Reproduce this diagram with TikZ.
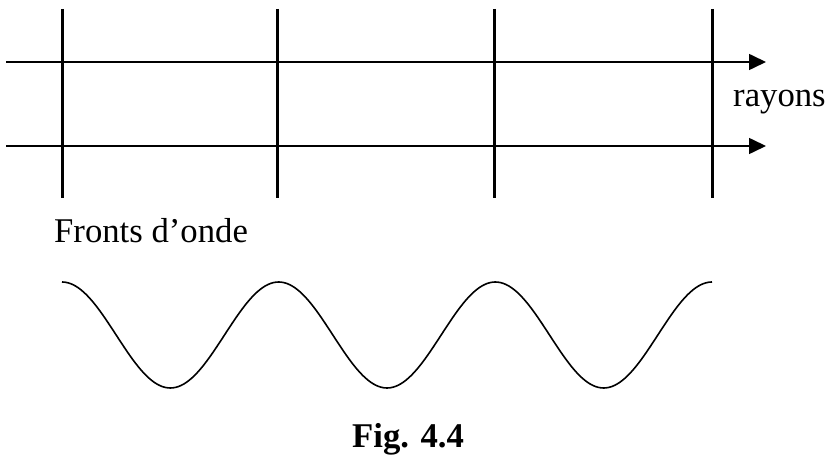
\documentclass[tikz,border=0pt]{standalone}
\usepackage{fontspec}
\setmainfont{Liberation Serif}
\usetikzlibrary{arrows.meta}
\begin{document}
\begin{tikzpicture}[x=1pt,y=-1pt,
  front/.style={line width=3pt},
  ray/.style={line width=1.6pt,-{Triangle[length=17pt,width=16pt]}},
  wave/.style={line width=1.6pt},
  lbl/.style={inner sep=0pt,anchor=base west,font=\fontsize{34.7}{40}\selectfont}]
\useasboundingbox (0,0) rectangle (828,462);
% wavefronts
\foreach \i/\x in {1/62,2/277,3/494,4/712}{
  \coordinate (ft\i) at (\x,9);
  \coordinate (fb\i) at (\x,198);
  \draw[front] (ft\i) -- (fb\i);
}
% rays
\coordinate (r1s) at (6,62);
\coordinate (r1e) at (766,62);
\coordinate (r2s) at (6,146);
\coordinate (r2e) at (766,146);
\draw[ray] (r1s) -- (r1e);
\draw[ray] (r2s) -- (r2e);
% labels
\node[lbl] (rayons) at (733,107) {rayons};
\node[lbl] (fronts) at (54,243) {Fronts d’onde};
\node[lbl,font=\fontsize{34.7}{40}\selectfont\bfseries] (fig) at (352,448) {Fig. 4.4};
% wave
\draw[wave] plot[domain=0:1080,samples=241,smooth] ({62+\x/360*216.667},{335-53*cos(\x)});
\end{tikzpicture}
\end{document}
